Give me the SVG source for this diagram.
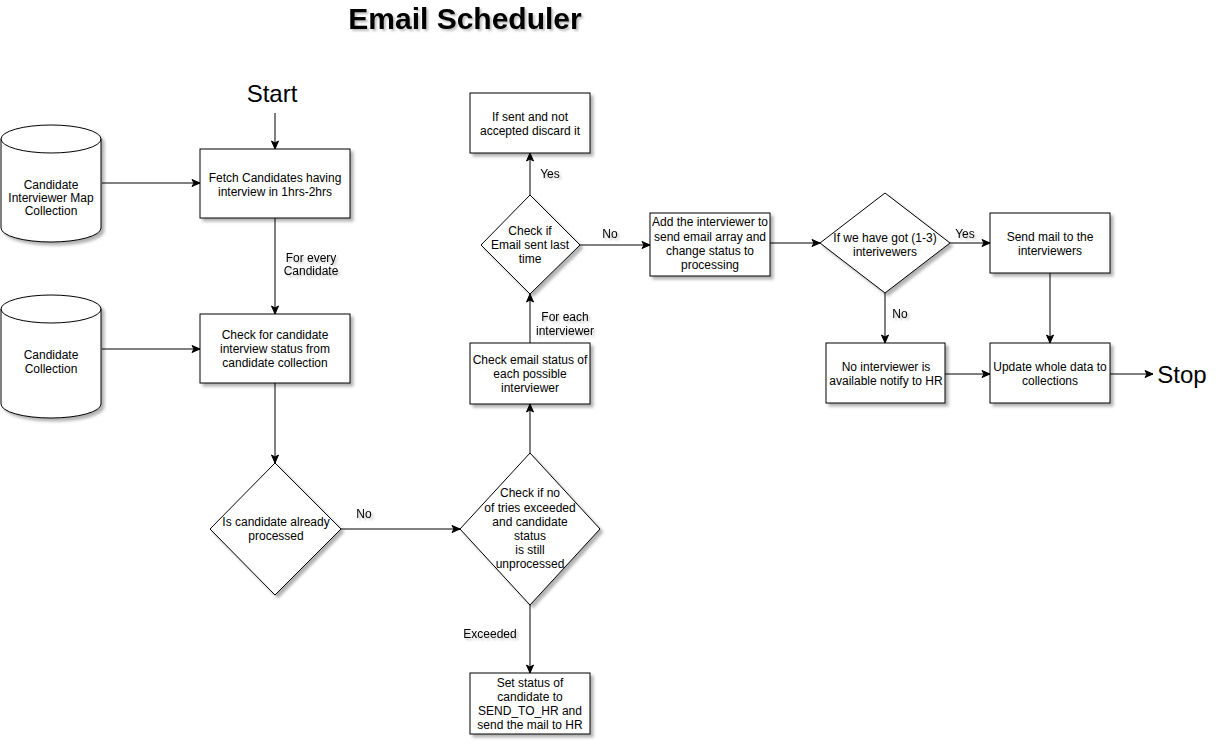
<svg xmlns="http://www.w3.org/2000/svg" width="1218" height="745" viewBox="0 0 1218 745">
<style>
text{font-family:"Liberation Sans",Arial,sans-serif;font-size:12px;fill:#000;text-anchor:middle}
.shape{fill:#fff;stroke:#000;stroke-width:1;filter:url(#sh)}
.edge{fill:none;stroke:#000;stroke-width:1;marker-end:url(#ah)}
.lbl{filter:url(#tsh)}
.big{font-size:24px}
.title{font-size:30px;font-weight:bold;filter:url(#tsh)}
</style>
<defs>
<filter id="sh" x="-10%" y="-10%" width="130%" height="130%">
<feDropShadow dx="3" dy="3" stdDeviation="1.5" flood-color="#000" flood-opacity="0.3"/>
</filter>
<filter id="tsh" x="-10%" y="-20%" width="130%" height="150%">
<feDropShadow dx="2" dy="2" stdDeviation="1" flood-color="#000" flood-opacity="0.25"/>
</filter>
<marker id="ah" markerWidth="10" markerHeight="10" refX="9" refY="5" orient="auto" markerUnits="userSpaceOnUse">
<path d="M1,1.5 L9,5 L1,8.5 L3,5 Z" fill="#000" stroke="#000" stroke-width="1"/>
</marker>
</defs>

<text class="title" x="465" y="29">Email Scheduler</text>

<g id="start"><text class="big" x="272" y="102">Start</text></g>
<g id="stop"><text class="big" x="1182" y="383">Stop</text></g>

<g id="cyl1">
<path class="shape" d="M1,139 A50,14 0 0 1 101,139 L101,228 A50,14 0 0 1 1,228 Z"/>
<path d="M1,139 A50,14 0 0 0 101,139" fill="none" stroke="#000"/>
<text x="51" y="189">Candidate</text>
<text x="51" y="202">Interviewer Map</text>
<text x="51" y="215">Collection</text>
</g>

<g id="cyl2">
<path class="shape" d="M1,309 A50,14 0 0 1 101,309 L101,404 A50,14 0 0 1 1,404 Z"/>
<path d="M1,309 A50,14 0 0 0 101,309" fill="none" stroke="#000"/>
<text x="51" y="359">Candidate</text>
<text x="51" y="373">Collection</text>
</g>

<g id="fetch">
<rect class="shape" x="200" y="149" width="150" height="69"/>
<text x="275" y="182">Fetch Candidates having</text>
<text x="275" y="196">interview in 1hrs-2hrs</text>
</g>

<g id="checkcand">
<rect class="shape" x="200" y="314" width="150" height="69"/>
<text x="275" y="339">Check for candidate</text>
<text x="275" y="353">interview status from</text>
<text x="275" y="367">candidate collection</text>
</g>

<g id="processed">
<polygon class="shape" points="275,463 341,529 275,595 210,529"/>
<text x="276" y="526">Is candidate already</text>
<text x="276" y="540">processed</text>
</g>

<g id="tries">
<polygon class="shape" points="530,453 600,529 530,605 460,529"/>
<text x="530" y="497">Check if no</text>
<text x="530" y="512">of tries exceeded</text>
<text x="530" y="526">and candidate</text>
<text x="530" y="540">status</text>
<text x="530" y="554">is still</text>
<text x="530" y="568">unprocessed</text>
</g>

<g id="sendhr">
<rect class="shape" x="470" y="673" width="120" height="61"/>
<text x="530" y="687">Set status of</text>
<text x="530" y="701">candidate to</text>
<text x="530" y="715">SEND_TO_HR and</text>
<text x="530" y="729">send the mail to HR</text>
</g>

<g id="emailstatus">
<rect class="shape" x="470" y="343" width="120" height="61"/>
<text x="530" y="364">Check email status of</text>
<text x="530" y="378">each possible</text>
<text x="530" y="392">interviewer</text>
</g>

<g id="sentlast">
<polygon class="shape" points="530,195 580,245 530,294 481,245"/>
<text x="530" y="235">Check if</text>
<text x="530" y="249">Email sent last</text>
<text x="530" y="263">time</text>
</g>

<g id="discard">
<rect class="shape" x="470" y="93" width="120" height="60"/>
<text x="530" y="121">If sent and not</text>
<text x="530" y="135">accepted discard it</text>
</g>

<g id="addint">
<rect class="shape" x="650" y="213" width="120" height="63"/>
<text x="710" y="226">Add the interviewer to</text>
<text x="710" y="241">send email array and</text>
<text x="710" y="255">change status to</text>
<text x="710" y="269">processing</text>
</g>

<g id="gotint">
<polygon class="shape" points="885,193 950,243 885,293 820,243"/>
<text x="885" y="242">If we have got (1-3)</text>
<text x="885" y="256">interivewers</text>
</g>

<g id="sendmail">
<rect class="shape" x="990" y="213" width="120" height="60"/>
<text x="1050" y="241">Send mail to the</text>
<text x="1050" y="255">interviewers</text>
</g>

<g id="noint">
<rect class="shape" x="826" y="343" width="119" height="60"/>
<text x="886" y="371">No interviewer is</text>
<text x="886" y="385">available notify to HR</text>
</g>

<g id="update">
<rect class="shape" x="990" y="343" width="120" height="60"/>
<text x="1050" y="371">Update whole data to</text>
<text x="1050" y="385">collections</text>
</g>

<g id="connectors">
<path class="edge" d="M275,113 L275,149"/>
<path class="edge" d="M102,183 L200,183"/>
<path class="edge" d="M275,218 L275,314"/>
<path class="edge" d="M102,349 L200,349"/>
<path class="edge" d="M275,383 L275,463"/>
<path class="edge" d="M341,529 L460,529"/>
<path class="edge" d="M530,605 L530,673"/>
<path class="edge" d="M530,453 L530,404"/>
<path class="edge" d="M530,343 L530,294"/>
<path class="edge" d="M530,195 L530,153"/>
<path class="edge" d="M580,245 L650,245"/>
<path class="edge" d="M770,243 L820,243"/>
<path class="edge" d="M950,243 L990,243"/>
<path class="edge" d="M885,293 L885,343"/>
<path class="edge" d="M1050,273 L1050,343"/>
<path class="edge" d="M945,374 L990,374"/>
<path class="edge" d="M1110,374 L1153,374"/>
<g class="lbl">
<text x="311" y="262">For every</text>
<text x="311" y="275">Candidate</text>
<text x="364" y="518">No</text>
<text x="490" y="638">Exceeded</text>
<text x="565" y="321">For each</text>
<text x="565" y="335">interviewer</text>
<text x="550" y="178">Yes</text>
<text x="610" y="238">No</text>
<text x="965" y="238">Yes</text>
<text x="900" y="318">No</text>
</g>
</g>
</svg>
